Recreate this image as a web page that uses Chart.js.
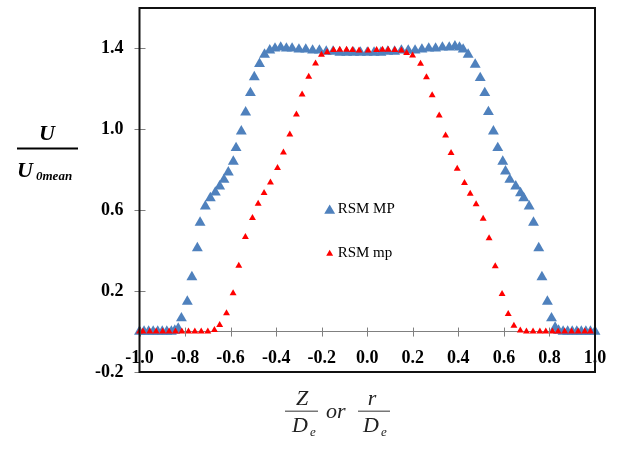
<!DOCTYPE html>
<html>
<head>
<meta charset="utf-8">
<script src="https://cdn.jsdelivr.net/npm/chart.js@4.4.1/dist/chart.umd.min.js"></script>
<style>
  html, body { margin: 0; padding: 0; background: #fff; }
  #wrap { width: 619px; height: 451px; }
</style>
</head>
<body>
<div id="wrap"><canvas id="profileChart" width="619" height="451"></canvas></div>
<script>
// القيم المقروءة من الرسم
const rsmMPx = [
  -1.0, -0.98, -0.96, -0.94, -0.92, -0.9, -0.88, -0.86, -0.845, -0.83,
  -0.816, -0.79, -0.77, -0.746, -0.734, -0.711, -0.689, -0.667, -0.648, -0.629,
  -0.61, -0.588, -0.576, -0.553, -0.534, -0.513, -0.496, -0.473, -0.451, -0.428,
  -0.405, -0.38, -0.355, -0.33, -0.3, -0.27, -0.24, -0.21, -0.18, -0.15,
  -0.12, -0.09, -0.06, -0.03, 0.0, 0.03, 0.06, 0.09, 0.12, 0.15,
  0.18, 0.21, 0.24, 0.27, 0.3, 0.33, 0.36, 0.385, 0.405, 0.421,
  0.443, 0.474, 0.496, 0.516, 0.532, 0.554, 0.573, 0.595, 0.607, 0.626,
  0.652, 0.673, 0.687, 0.711, 0.73, 0.753, 0.767, 0.791, 0.809, 0.825,
  0.84, 0.86, 0.88, 0.9, 0.92, 0.94, 0.96, 0.98, 1.0,
];
const rsmMPy = [
  0.0, 0.0, 0.0, 0.0, 0.0, 0.0, 0.0, 0.0, 0.005, 0.015,
  0.066, 0.148, 0.269, 0.413, 0.539, 0.619, 0.66, 0.688, 0.718, 0.751,
  0.787, 0.841, 0.908, 0.99, 1.084, 1.18, 1.258, 1.324, 1.37, 1.391,
  1.4, 1.405, 1.4, 1.4, 1.395, 1.395, 1.39, 1.39, 1.385, 1.385,
  1.38, 1.38, 1.38, 1.38, 1.38, 1.38, 1.38, 1.385, 1.385, 1.39,
  1.39, 1.39, 1.395, 1.4, 1.4, 1.405, 1.405, 1.41, 1.405, 1.395,
  1.37, 1.32, 1.254, 1.18, 1.086, 0.99, 0.908, 0.841, 0.792, 0.751,
  0.718, 0.685, 0.66, 0.619, 0.539, 0.413, 0.269, 0.148, 0.066, 0.02,
  0.005, 0.0, 0.0, 0.0, 0.0, 0.0, 0.0, 0.0, 0.0,
];

const rsmmpX = [
  -1.0, -0.985, -0.955, -0.927, -0.898, -0.87, -0.842, -0.814, -0.785, -0.757,
  -0.729, -0.7, -0.671, -0.648, -0.618, -0.589, -0.564, -0.535, -0.504, -0.479,
  -0.453, -0.425, -0.394, -0.368, -0.34, -0.311, -0.286, -0.257, -0.227, -0.201,
  -0.176, -0.148, -0.121, -0.091, -0.065, -0.036, 0.004, 0.041, 0.067, 0.092,
  0.121, 0.15, 0.173, 0.199, 0.234, 0.26, 0.285, 0.316, 0.344, 0.368,
  0.395, 0.427, 0.452, 0.478, 0.509, 0.535, 0.562, 0.592, 0.619, 0.644,
  0.672, 0.699, 0.728, 0.758, 0.784, 0.813, 0.838, 0.867, 0.897, 0.926,
  0.955, 0.98,
];
const rsmmpY = [
  0.0, 0.0, 0.0, 0.0, 0.0, 0.0, 0.0, 0.0, 0.0, 0.0,
  0.0, 0.0, 0.008, 0.033, 0.09, 0.19, 0.325, 0.467, 0.561, 0.632,
  0.685, 0.737, 0.809, 0.886, 0.974, 1.073, 1.172, 1.26, 1.325, 1.369,
  1.381, 1.392, 1.393, 1.393, 1.392, 1.39, 1.39, 1.392, 1.393, 1.393,
  1.392, 1.39, 1.378, 1.365, 1.324, 1.258, 1.168, 1.069, 0.969, 0.883,
  0.805, 0.734, 0.682, 0.63, 0.558, 0.462, 0.323, 0.186, 0.087, 0.029,
  0.005, 0.0, 0.0, 0.0, 0.0, 0.0, 0.0, 0.0, 0.0, 0.0,
  0.0, 0.0,
];

// التدريجات المكتوبة على المحاور
const xMajorTicks = [-1.0, -0.8, -0.6, -0.4, -0.2, 0.0, 0.2, 0.4, 0.6, 0.8, 1.0];
const yMajorTicks = [-0.2, 0.2, 0.6, 1.0, 1.4];
const seriesNames = ["RSM MP", "RSM mp"];

const BLUE = "rgb(79,129,189)";
const RED = "rgb(255,0,0)";
const SERIF = "'Liberation Serif', 'Times New Roman', serif";

function toPoints(xs, ys) {
  return xs.map((x, i) => ({ x: x, y: ys[i] }));
}

function findMajor(list, v) {
  return list.find((t) => Math.abs(t - v) < 1e-6);
}

// إلغاء الهوامش التي تضيفها التسميات حتى تبقى منطقة الرسم ثابتة
function noScalePadding(scale) {
  scale.paddingTop = 0;
  scale.paddingBottom = 0;
  scale.paddingLeft = 0;
  scale.paddingRight = 0;
}

// الإطار والتدريجات والعناوين
const decorPlugin = {
  id: "decor",
  afterDraw(chart) {
    const ctx = chart.ctx;
    const area = chart.chartArea;
    const xs = chart.scales.x;
    const ys = chart.scales.y;
    const y0 = ys.getPixelForValue(0);

    ctx.save();
    ctx.strokeStyle = "#808080";
    ctx.lineWidth = 1;
    ctx.beginPath();
    xs.ticks.forEach((t) => {
      const px = Math.round(xs.getPixelForValue(t.value)) + 0.5;
      const major = findMajor(xMajorTicks, t.value) !== undefined;
      ctx.moveTo(px, y0 - 4);
      ctx.lineTo(px, major ? y0 + 5 : y0);
    });
    ys.ticks.forEach((t) => {
      const py = Math.round(ys.getPixelForValue(t.value)) + 0.5;
      const major = findMajor(yMajorTicks, t.value) !== undefined;
      ctx.moveTo(major ? area.left - 5 : area.left, py);
      ctx.lineTo(area.left + 6, py);
    });
    ctx.stroke();

    // الإطار
    ctx.strokeStyle = "#111";
    ctx.lineWidth = 2;
    ctx.strokeRect(area.left, area.top, area.right - area.left, area.bottom - area.top);

    // المفتاح
    const lx = xs.getPixelForValue(-0.165);
    const ly1 = ys.getPixelForValue(0.605);
    const ly2 = ys.getPixelForValue(0.39);
    drawTriangle(ctx, lx, ly1 + 1.5, 6.3, BLUE);
    drawTriangle(ctx, lx, ly2 + 1, 4, RED);
    ctx.fillStyle = "#000";
    ctx.font = "15px " + SERIF;
    ctx.textAlign = "left";
    ctx.textBaseline = "middle";
    ctx.fillText(seriesNames[0], lx + 8, ly1);
    ctx.fillText(seriesNames[1], lx + 8, ly2);

    // عنوان المحور الرأسي
    ctx.textBaseline = "alphabetic";
    ctx.font = "bold italic 22px " + SERIF;
    ctx.textAlign = "center";
    ctx.fillText("U", 47, 140);
    ctx.fillRect(17, 147.5, 61, 2);
    ctx.textAlign = "left";
    ctx.fillText("U", 17, 177);
    ctx.font = "bold italic 13px " + SERIF;
    ctx.fillText("0mean", 36, 180);

    // عنوان المحور الأفقي
    ctx.fillStyle = "#222";
    ctx.font = "italic 22px " + SERIF;
    ctx.textAlign = "center";
    ctx.fillText("Z", 302, 405);
    ctx.fillText("r", 372, 405);
    ctx.textAlign = "left";
    ctx.fillText("D", 292, 432);
    ctx.fillText("D", 363, 432);
    ctx.fillText("or", 326, 418);
    ctx.font = "italic 13px " + SERIF;
    ctx.fillText("e", 310, 436);
    ctx.fillText("e", 381, 436);
    ctx.fillStyle = "#777";
    ctx.fillRect(285, 410.5, 33, 1.5);
    ctx.fillRect(358, 410.5, 32, 1.5);
    ctx.restore();
  },
};

function drawTriangle(ctx, x, y, r, color) {
  ctx.save();
  ctx.fillStyle = color;
  ctx.beginPath();
  ctx.moveTo(x, y - r);
  ctx.lineTo(x + r * Math.sin(Math.PI / 3), y + r / 2);
  ctx.lineTo(x - r * Math.sin(Math.PI / 3), y + r / 2);
  ctx.closePath();
  ctx.fill();
  ctx.restore();
}

const ctx = document.getElementById("profileChart").getContext("2d");
const profileChart = new Chart(ctx, {
  type: "scatter",
  data: {
    datasets: [
      {
        label: seriesNames[1],
        data: toPoints(rsmmpX, rsmmpY),
        pointStyle: "triangle",
        pointRadius: 4,
        backgroundColor: RED,
        borderColor: RED,
        borderWidth: 0,
        clip: false,
      },
      {
        label: seriesNames[0],
        data: toPoints(rsmMPx, rsmMPy),
        pointStyle: "triangle",
        pointRadius: 6.3,
        backgroundColor: BLUE,
        borderColor: BLUE,
        borderWidth: 0,
        clip: false,
      },
    ],
  },
  options: {
    responsive: false,
    animation: false,
    devicePixelRatio: 1,
    layout: {
      padding: { left: 0, top: 8, right: 24, bottom: 79 },
    },
    plugins: {
      legend: { display: false },
      tooltip: { enabled: false },
    },
    scales: {
      x: {
        type: "linear",
        position: { y: 0 },
        min: -1,
        max: 1,
        grid: { drawOnChartArea: false, drawTicks: false },
        border: { display: true, color: "#808080", width: 1 },
        afterFit: noScalePadding,
        ticks: {
          stepSize: 0.05,
          autoSkip: false,
          maxRotation: 0,
          padding: 16,
          color: "#000",
          font: { family: SERIF, size: 18, weight: "bold" },
          callback: function (value) {
            const m = findMajor(xMajorTicks, value);
            return m === undefined ? null : m.toFixed(1);
          },
        },
      },
      y: {
        type: "linear",
        position: "left",
        min: -0.2,
        max: 1.6,
        grid: { drawOnChartArea: false, drawTicks: false },
        border: { display: false },
        afterFit: function (scale) {
          noScalePadding(scale);
          scale.width = 139.5;
        },
        ticks: {
          stepSize: 0.05,
          autoSkip: false,
          padding: 16,
          color: "#000",
          font: { family: SERIF, size: 18, weight: "bold" },
          callback: function (value) {
            const m = findMajor(yMajorTicks, value);
            return m === undefined ? null : m.toFixed(1);
          },
        },
      },
    },
  },
  plugins: [decorPlugin],
});
</script>
</body>
</html>
